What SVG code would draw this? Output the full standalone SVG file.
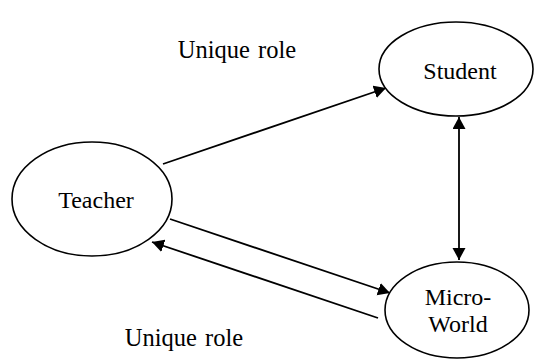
<svg xmlns="http://www.w3.org/2000/svg" width="534" height="359" viewBox="0 0 534 359">
  <style>
    .node { fill: #fff; stroke: #000; stroke-width: 1.6; }
    .lbl { font-family: "Liberation Serif", "Times New Roman", serif; font-size: 24px; fill: #000; text-anchor: middle; }
    .role { font-size: 24.5px; word-spacing: 2px; }
    .edge { stroke: #000; stroke-width: 1.8; fill: none; }
  </style>
  <defs>
    <marker id="arrow" markerUnits="userSpaceOnUse" markerWidth="14" markerHeight="14" refX="12" refY="6.5" orient="auto-start-reverse">
      <path d="M0,0 L12,6.5 L0,13 Z" fill="#000"/>
    </marker>
  </defs>

  <rect width="534" height="359" fill="#fff"/>

  <g id="edges">
    <line class="edge" x1="163" y1="164" x2="386" y2="88" marker-end="url(#arrow)"/>
    <line class="edge" x1="459" y1="117" x2="459" y2="260" marker-start="url(#arrow)" marker-end="url(#arrow)"/>
    <line class="edge" x1="170" y1="219" x2="390" y2="293" marker-end="url(#arrow)"/>
    <line class="edge" x1="378" y1="318" x2="152" y2="242" marker-end="url(#arrow)"/>
  </g>

  <g id="teacher">
    <ellipse class="node" cx="92" cy="199" rx="80" ry="57"/>
    <text class="lbl" x="96" y="208">Teacher</text>
  </g>

  <g id="student">
    <ellipse class="node" cx="456" cy="69" rx="77" ry="47"/>
    <text class="lbl" x="460" y="79">Student</text>
  </g>

  <g id="microworld">
    <ellipse class="node" cx="457" cy="310" rx="72" ry="48"/>
    <text class="lbl" x="458" y="305">Micro-</text>
    <text class="lbl" x="458" y="332">World</text>
  </g>

  <g id="labels">
    <text class="lbl role" x="237" y="58">Unique role</text>
    <text class="lbl role" x="184" y="346">Unique role</text>
  </g>
</svg>
